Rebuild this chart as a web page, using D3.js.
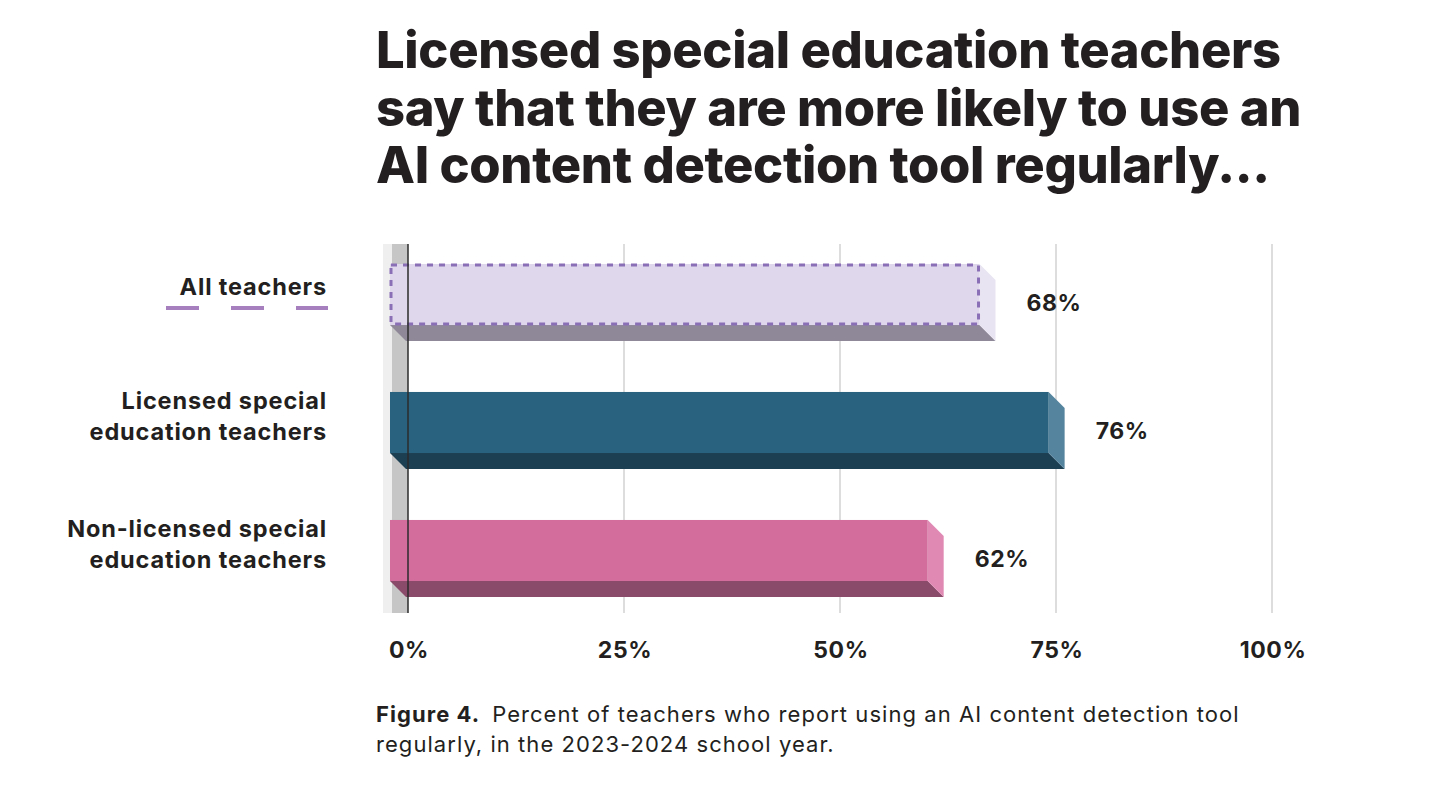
<!DOCTYPE html>
<html>
<head>
<meta charset="utf-8">
<script src="https://cdn.jsdelivr.net/npm/d3@7"></script>
<style>
  body { margin: 0; background: #fff; }
  svg { display: block; font-family: Inter, "Open Sans", sans-serif; }
</style>
</head>
<body>
<div id="chart"></div>
<script>
// data
const categories = ["All teachers", "Licensed special education teachers", "Non-licensed special education teachers"];
const labelLines = [["All teachers"], ["Licensed special", "education teachers"], ["Non-licensed special", "education teachers"]];
const values = [68, 76, 62];
const tickValues = [0, 25, 50, 75, 100];
const titleLines = [
  "Licensed special education teachers",
  "say that they are more likely to use an",
  "AI content detection tool regularly..."
];
const captionBold = "Figure 4.";
const captionLines = [
  "Percent of teachers who report using an AI content detection tool",
  "regularly, in the 2023-2024 school year."
];

const W = 1444, H = 788;
const depth = 16;          // 3d offset of the bars
const plotTop = 244, plotBottom = 613;

// front, bottom, side colours per bar
const faces = [
  {front: "#dfd8ec", bottom: "#8e8898", side: "#e9e4f1"},
  {front: "#29627f", bottom: "#1d3f52", side: "#55849e"},
  {front: "#d26d9c", bottom: "#8a4a69", side: "#e08ab3"}
];

const svg = d3.select("#chart").append("svg")
  .attr("width", W)
  .attr("height", H);

const x = d3.scaleLinear().domain([0, 100]).range([408, 1272]);
const y = d3.scaleBand().domain(categories)
  .range([230.5, 614.5])
  .paddingInner(0.523)
  .paddingOuter(0.2615);

// title
svg.append("g").selectAll("text")
  .data(titleLines)
  .enter().append("text")
    .attr("x", 376)
    .attr("y", (d, i) => 68 + i * 57.5)
    .style("font-size", "50.7px")
    .style("font-weight", 800)
    .style("fill", "#231f20")
    .style("letter-spacing", "-0.35px")
    .text(d => d);

// back wall on the zero line
svg.append("rect")
  .attr("x", x(0) - 25).attr("y", plotTop)
  .attr("width", 25).attr("height", plotBottom - plotTop)
  .attr("fill", "#efefef");
svg.append("rect")
  .attr("x", x(0) - 16).attr("y", plotTop)
  .attr("width", 16).attr("height", plotBottom - plotTop)
  .attr("fill", "#c6c6c6");

// gridlines
svg.append("g").selectAll("line")
  .data(tickValues.slice(1))
  .enter().append("line")
    .attr("x1", d => x(d)).attr("x2", d => x(d))
    .attr("y1", plotTop).attr("y2", plotBottom)
    .style("stroke", "#d2d2d2")
    .style("stroke-width", 1.5);

// bars
const bars = svg.append("g").selectAll("g")
  .data(values)
  .enter().append("g");

const fl = x(0) - 18; // front-left edge
bars.each(function(v, i) {
  const g = d3.select(this);
  const top = y(categories[i]);
  const bot = top + y.bandwidth();
  const fr = x(v) - depth;
  const c = faces[i];

  // light patch where the bar shadows the wall
  g.append("path")
    .attr("d", `M${fl},${bot}L${fl + depth + 2},${bot + depth}L${fl + depth + 2},${bot}Z`)
    .attr("fill", "#e6e6e6");
  // bottom face
  g.append("path")
    .attr("d", `M${fl},${bot}L${fr},${bot}L${fr + depth},${bot + depth}L${fl + depth},${bot + depth}Z`)
    .attr("fill", c.bottom);
  // side face
  g.append("path")
    .attr("d", `M${fr},${top}L${fr + depth},${top + depth}L${fr + depth},${bot + depth}L${fr},${bot}Z`)
    .attr("fill", c.side);
  // front face
  g.append("rect")
    .attr("x", fl).attr("y", top)
    .attr("width", fr - fl).attr("height", y.bandwidth())
    .attr("fill", c.front);
  if (i === 0) {
    g.append("rect")
      .attr("x", fl + 1).attr("y", top + 1)
      .attr("width", fr - fl - 2).attr("height", y.bandwidth() - 2)
      .attr("fill", "none")
      .style("stroke", "#8a6fb6")
      .style("stroke-width", 3)
      .style("stroke-dasharray", "6 6");
  }
});

// zero line
svg.append("line")
  .attr("x1", x(0)).attr("x2", x(0))
  .attr("y1", plotTop).attr("y2", plotBottom)
  .style("stroke", "#2b2b2b")
  .style("stroke-width", 1.5);

// value labels
svg.append("g").selectAll("text")
  .data(values)
  .enter().append("text")
    .attr("x", d => x(d) + 31)
    .attr("y", (d, i) => y(categories[i]) + y.bandwidth() / 2 + depth / 2 + 8)
    .style("font-size", "23px")
    .style("font-weight", 700)
    .style("letter-spacing", "0.6px")
    .style("fill", "#231f20")
    .text(d => d + "%");

// category labels
const cat = svg.append("g").selectAll("text")
  .data(labelLines)
  .enter().append("text")
    .attr("text-anchor", "end")
    .style("font-size", "23.5px")
    .style("font-weight", 700)
    .style("letter-spacing", "0.85px")
    .style("fill", "#231f20");
cat.each(function(lines, i) {
  const c = y(categories[i]) + y.bandwidth() / 2;
  const first = c - (lines.length - 1) * 13.5;
  d3.select(this).selectAll("tspan")
    .data(lines)
    .enter().append("tspan")
      .attr("x", 327)
      .attr("y", (d, j) => first + j * 31)
      .text(d => d);
});

// dashed legend mark under "All teachers"
svg.append("line")
  .attr("x1", 166).attr("x2", 328)
  .attr("y1", 308).attr("y2", 308)
  .style("stroke", "#a57fbe")
  .style("stroke-width", 4)
  .style("stroke-dasharray", "33 32");

// x axis labels
svg.append("g").selectAll("text")
  .data(tickValues)
  .enter().append("text")
    .attr("x", d => x(d) + 1)
    .attr("y", 658)
    .attr("text-anchor", "middle")
    .style("font-size", "23px")
    .style("font-weight", 700)
    .style("letter-spacing", "0.6px")
    .style("fill", "#231f20")
    .text(d => d + "%");

// caption
const cap = svg.append("text")
  .attr("x", 376).attr("y", 722)
  .style("font-size", "22px")
  .style("letter-spacing", "1.05px")
  .style("fill", "#231f20");
cap.append("tspan").style("font-weight", 700).text(captionBold);
cap.append("tspan").attr("dx", 12).text(captionLines[0]);
svg.append("text")
  .attr("x", 376).attr("y", 752)
  .style("font-size", "22px")
  .style("letter-spacing", "1.05px")
  .style("fill", "#231f20")
  .text(captionLines[1]);
</script>
</body>
</html>
